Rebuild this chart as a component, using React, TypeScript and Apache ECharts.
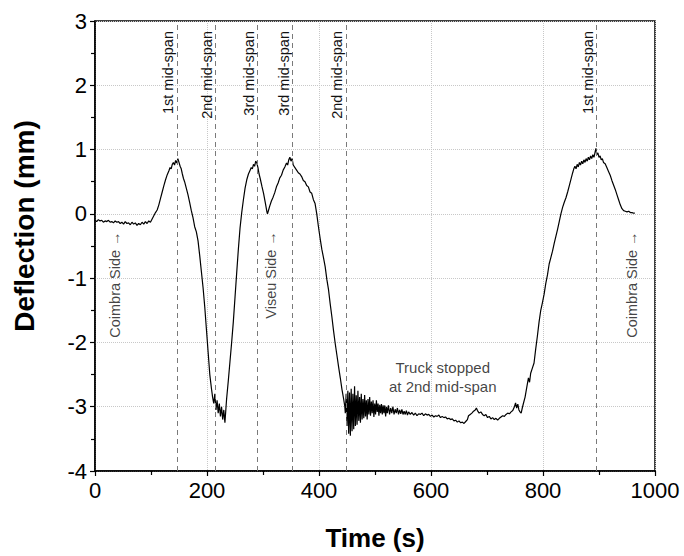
import React, { useEffect, useRef } from "react";
import * as echarts from "echarts";

// [time (s), deflection (mm)], phase by phase
const approach: number[][] = [
  [0, -0.1], [3, -0.12], [6, -0.09], [9, -0.11], [12, -0.1], [15, -0.13], [18, -0.11], [21, -0.12],
  [24, -0.1], [27, -0.13], [30, -0.12], [33, -0.14], [36, -0.11], [39, -0.13], [42, -0.12], [45, -0.15],
  [48, -0.13], [51, -0.16], [54, -0.12], [57, -0.15], [60, -0.14], [63, -0.17], [66, -0.13], [69, -0.16],
  [72, -0.14], [75, -0.18], [78, -0.15], [81, -0.17], [84, -0.13], [87, -0.16], [90, -0.12], [93, -0.15],
  [96, -0.11], [99, -0.13], [102, -0.08],
];
const firstSpan: number[][] = [
  [105, -0.03], [108, 0.02], [111, 0.06], [114, 0.14], [117, 0.24], [120, 0.34], [123, 0.44], [126, 0.53],
  [129, 0.61], [132, 0.67], [134, 0.72], [136, 0.7], [138, 0.77], [140, 0.8], [142, 0.76], [144, 0.83],
  [146, 0.79], [148, 0.86], [150, 0.8], [152, 0.74], [154, 0.7], [156, 0.62], [158, 0.55], [160, 0.5],
  [163, 0.4], [166, 0.3], [169, 0.18], [172, 0.05], [175, -0.06], [178, -0.2], [181, -0.28], [184, -0.42],
  [187, -0.65], [190, -0.9], [193, -1.15], [196, -1.45], [199, -1.8], [202, -2.15], [205, -2.5], [208, -2.72],
  [210, -2.85],
];
const secondSpan: number[][] = [
  [212, -2.95], [214, -2.8], [216, -3.05], [218, -2.9], [220, -3.1], [222, -2.95], [224, -3.15], [226, -3.0],
  [228, -3.2], [230, -3.05], [232, -3.25], [234, -3.0], [235, -2.88], [238, -2.6], [241, -2.3], [244, -2.0],
  [247, -1.68], [250, -1.3], [253, -0.92], [256, -0.55], [259, -0.22], [262, 0.02], [265, 0.22], [268, 0.4],
  [271, 0.53], [274, 0.62], [277, 0.68], [279, 0.72], [281, 0.7], [283, 0.77], [285, 0.74], [287, 0.82],
  [289, 0.79], [291, 0.72], [293, 0.62], [295, 0.55], [298, 0.43], [301, 0.32], [304, 0.18], [307, 0.03],
  [308, 0.0], [310, 0.06], [312, 0.12], [315, 0.2], [318, 0.26], [321, 0.33], [324, 0.42], [327, 0.48],
  [330, 0.56], [333, 0.6], [336, 0.68], [339, 0.73], [342, 0.79], [344, 0.76], [346, 0.84], [348, 0.88],
  [350, 0.82], [352, 0.86], [354, 0.76], [357, 0.72], [360, 0.68], [363, 0.64], [366, 0.62], [369, 0.58],
  [372, 0.52], [375, 0.5], [378, 0.44], [381, 0.42], [384, 0.34], [387, 0.32], [390, 0.22], [393, 0.16],
  [396, 0.0], [399, -0.2], [402, -0.38], [405, -0.55], [408, -0.68], [411, -0.82], [414, -1.02], [417, -1.18],
  [420, -1.4], [423, -1.6], [426, -1.82], [429, -2.02], [432, -2.2], [435, -2.38], [438, -2.55], [441, -2.73],
  [444, -2.88], [446, -2.99],
];
const stopped: number[][] = [
  [447, -3.1], [448.5, -2.8], [450, -3.3], [451.5, -2.75], [453, -3.42], [454.5, -2.78], [456, -3.45],
  [457.5, -2.72], [459, -3.38], [460.5, -2.8], [462, -3.35], [463.5, -2.68], [465, -3.3], [466.5, -2.82],
  [468, -3.28], [469.5, -2.75], [471, -3.22], [472.5, -2.85], [474, -3.25], [475.5, -2.8], [477, -3.2],
  [478.5, -2.88], [480, -3.18], [481.5, -2.82], [483, -3.15], [484.5, -2.9], [486, -3.2], [487.5, -2.88],
  [489, -3.12], [490.5, -2.85], [492, -3.14], [493.5, -2.92], [495, -3.1], [496.5, -2.9], [498, -3.16],
  [499.5, -2.95], [501, -3.12], [502.5, -2.9], [504, -3.08], [505.5, -2.95], [507, -3.14], [508.5, -2.97],
  [510, -3.1], [511.5, -2.96], [513, -3.12], [514.5, -2.98], [516, -3.1], [517.5, -2.98], [519, -3.15],
  [520.5, -3.0], [522, -3.1], [524, -2.98], [526, -3.12], [528, -3.02], [530, -3.1], [532, -3.0], [534, -3.12],
  [536, -3.04], [538, -3.1], [540, -3.02], [542, -3.12], [544, -3.05], [546, -3.11], [548, -3.04], [550, -3.12],
  [552, -3.07], [554, -3.12], [556, -3.06], [558, -3.13], [560, -3.08], [563, -3.12], [566, -3.09], [569, -3.13],
  [572, -3.1], [575, -3.14], [578, -3.11], [581, -3.12], [584, -3.1], [587, -3.14], [590, -3.11], [593, -3.13],
  [596, -3.12], [599, -3.15], [602, -3.13], [605, -3.16], [608, -3.14], [611, -3.15], [614, -3.13], [617, -3.17],
  [620, -3.15], [623, -3.17], [626, -3.16], [629, -3.19], [632, -3.18], [635, -3.2], [638, -3.19], [641, -3.22],
  [644, -3.21], [647, -3.24], [650, -3.22], [653, -3.25], [656, -3.24], [659, -3.26], [662, -3.23], [665, -3.2],
  [667, -3.14], [670, -3.12], [673, -3.1], [676, -3.07], [679, -3.05], [681, -3.02], [683, -3.06], [686, -3.1],
  [689, -3.08], [692, -3.12], [695, -3.14], [698, -3.12], [701, -3.17], [704, -3.15], [707, -3.19], [710, -3.17],
  [713, -3.2], [716, -3.18], [719, -3.21], [722, -3.18], [725, -3.16], [728, -3.14], [731, -3.15], [734, -3.12],
  [737, -3.1], [740, -3.11], [743, -3.08], [746, -3.06], [749, -3.0], [751, -2.94], [753, -3.02], [755, -2.96],
  [757, -3.05], [759, -3.08], [761, -3.1], [763, -3.02], [765, -2.95],
];
const returnTrip: number[][] = [
  [768, -2.85], [771, -2.7], [774, -2.55], [776, -2.62], [778, -2.48], [781, -2.4], [784, -2.32], [787, -2.1],
  [790, -1.9], [793, -1.68], [796, -1.5], [799, -1.38], [802, -1.25], [805, -1.08], [808, -0.95], [811, -0.78],
  [814, -0.68], [817, -0.58], [820, -0.46], [823, -0.35], [826, -0.24], [829, -0.12], [832, 0.0], [835, 0.1],
  [838, 0.18], [841, 0.25], [844, 0.34], [847, 0.44], [850, 0.54], [853, 0.64], [855, 0.7], [857, 0.74],
  [859, 0.7], [861, 0.77], [863, 0.73], [865, 0.8], [867, 0.76], [869, 0.82], [871, 0.78], [873, 0.84],
  [875, 0.8], [877, 0.86], [879, 0.82], [881, 0.88], [883, 0.84], [885, 0.9], [887, 0.86], [889, 0.92],
  [891, 0.88], [893, 0.96], [894.5, 1.02], [896, 0.92], [898, 0.95], [900, 0.88], [902, 0.9], [904, 0.84],
  [906, 0.86], [908, 0.8], [911, 0.78], [914, 0.72], [917, 0.66], [920, 0.6], [923, 0.52], [926, 0.45],
  [929, 0.38], [932, 0.3], [935, 0.22], [938, 0.14], [941, 0.08], [944, 0.05], [947, 0.04], [950, 0.03],
  [953, 0.04], [956, 0.02], [959, 0.02], [962, 0.01], [964, 0.01],
];

const midSpanTimes = [146, 215, 290, 352, 448, 895];
const midSpanLabels = ["1st mid-span", "2nd mid-span", "3rd mid-span", "3rd mid-span", "2nd mid-span", "1st mid-span"];

const sideLabels = ["Coimbra Side \u2192", "Viseu Side \u2192", "Coimbra Side \u2192"];
const sidePositions: number[][] = [[36, -1.1], [314, -0.95], [959, -1.1]];

const noteText = "Truck stopped\nat 2nd mid-span";
const notePosition = [621, -2.53];

const FONT = "Arial, 'Liberation Sans', 'DejaVu Sans', sans-serif";

export default function App() {
  const ref = useRef<HTMLDivElement>(null);
  useEffect(() => {
    if (!ref.current) return;
    const chart = echarts.init(ref.current, undefined, { renderer: "svg" });
    const series = [...approach, ...firstSpan, ...secondSpan, ...stopped, ...returnTrip];
    chart.setOption({
      animation: false,
      backgroundColor: "#ffffff",
      textStyle: { fontFamily: FONT },
      grid: {
        left: 95,
        right: 29,
        top: 21,
        bottom: 84,
        show: true,
        borderColor: "#000",
        borderWidth: 1.5,
        backgroundColor: "transparent",
      },
      xAxis: {
        type: "value",
        min: 0,
        max: 1000,
        interval: 200,
        name: "Time (s)",
        nameLocation: "middle",
        nameGap: 54,
        nameTextStyle: { fontSize: 26, fontWeight: "bold", color: "#000", fontFamily: FONT },
        axisLine: { show: true, onZero: false, lineStyle: { color: "#000", width: 1.5 } },
        axisTick: { show: true, inside: false, length: 5, lineStyle: { color: "#000", width: 1.2 } },
        minorTick: { show: true, splitNumber: 2, length: 4, lineStyle: { color: "#000", width: 1.2 } },
        axisLabel: {
          fontSize: 22,
          color: "#000",
          margin: 8,
          fontFamily: FONT,
          formatter: (v: number) => String(v),
        },
        splitLine: { show: true, lineStyle: { color: "#c8c8c8", type: "dotted", width: 1 } },
      },
      yAxis: {
        type: "value",
        min: -4,
        max: 3,
        interval: 1,
        name: "Deflection (mm)",
        nameLocation: "middle",
        nameGap: 57,
        nameTextStyle: {
          fontSize: 28,
          fontWeight: "bold",
          color: "#000",
          fontFamily: FONT,
          padding: [0, 0, 0, 40],
        },
        axisLine: { show: true, onZero: false, lineStyle: { color: "#000", width: 1.5 } },
        axisTick: { show: true, inside: false, length: 5, lineStyle: { color: "#000", width: 1.2 } },
        minorTick: { show: true, splitNumber: 2, length: 4, lineStyle: { color: "#000", width: 1.2 } },
        axisLabel: { fontSize: 22, color: "#000", margin: 8, fontFamily: FONT },
        splitLine: { show: true, lineStyle: { color: "#c8c8c8", type: "dotted", width: 1 } },
      },
      series: [
        {
          type: "line",
          data: series,
          showSymbol: false,
          symbol: "none",
          lineStyle: { color: "#000", width: 1.2 },
          z: 3,
          markLine: {
            silent: true,
            symbol: ["none", "none"],
            lineStyle: { color: "#7a7a7a", type: [5, 4], width: 1 },
            label: {
              show: true,
              position: "insideEndTop",
              fontSize: 14.5,
              color: "#111",
              fontFamily: FONT,
              distance: [10, 1],
            },
            data: midSpanTimes.map((t, i) => ({
              xAxis: t,
              label: { formatter: midSpanLabels[i] },
            })),
          },
        },
        {
          type: "scatter",
          symbolSize: 0,
          silent: true,
          data: sidePositions.map((p, i) => ({ value: p, name: sideLabels[i] })),
          label: {
            show: true,
            position: "inside",
            rotate: 90,
            formatter: (p: any) => sideLabels[p.dataIndex],
            fontSize: 14.5,
            color: "#111",
            fontFamily: FONT,
          },
          z: 4,
        },
        {
          type: "scatter",
          symbolSize: 0,
          silent: true,
          data: [notePosition],
          label: {
            show: true,
            position: "inside",
            formatter: noteText,
            fontSize: 15,
            lineHeight: 19,
            align: "center",
            color: "#111",
            fontFamily: FONT,
          },
          z: 4,
        },
      ],
    });
    return () => chart.dispose();
  }, []);
  return (
    <div
      ref={ref}
      style={{ position: "fixed", left: 0, top: 0, width: 684, height: 556, background: "#fff" }}
    />
  );
}
